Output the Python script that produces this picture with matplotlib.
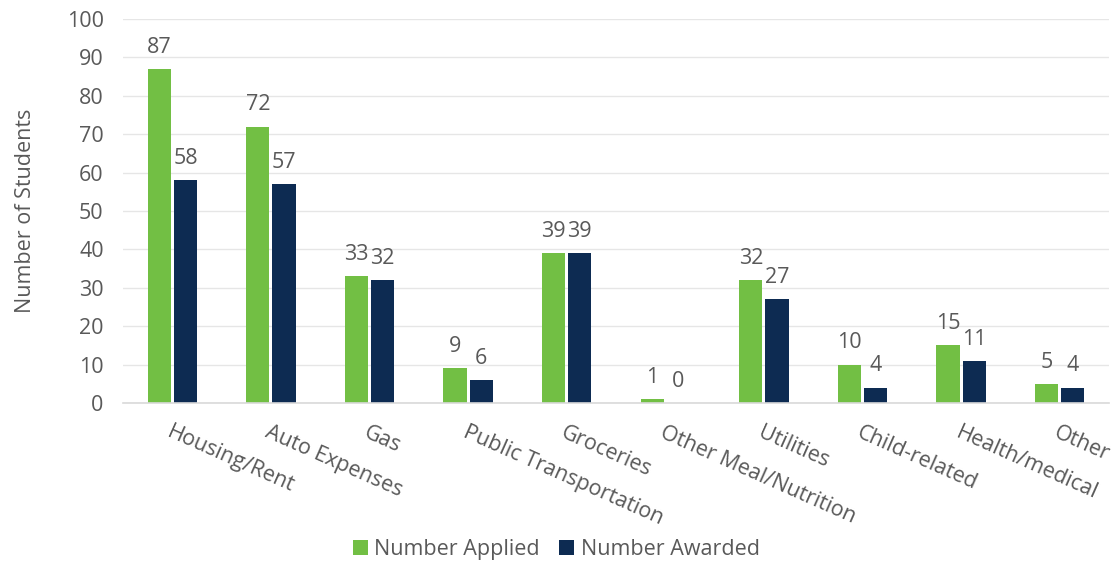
import matplotlib.pyplot as plt
import numpy as np

categories = ['Housing/Rent', 'Auto Expenses', 'Gas', 'Public Transportation', 'Groceries',
              'Other Meal/Nutrition', 'Utilities', 'Child-related', 'Health/medical', 'Other']
applied = [87, 72, 33, 9, 39, 1, 32, 10, 15, 5]
awarded = [58, 57, 32, 6, 39, 0, 27, 4, 11, 4]
series_names = ['Number Applied', 'Number Awarded']
yticks = list(range(0, 101, 10))

green = '#72BF44'
navy = '#0D2B52'
grey = '#595959'
fs = 15.5

plt.rcParams['font.family'] = ['Open Sans', 'DejaVu Sans']

fig = plt.figure(figsize=(11.19, 5.62), dpi=100)
ax = fig.add_axes([0.110, 0.283, 0.881, 0.683])

x = np.arange(len(categories))
w = 0.235
gap = 0.03
b1 = ax.bar(x - (w + gap) / 2, applied, w, color=green, label=series_names[0])
b2 = ax.bar(x + (w + gap) / 2, awarded, w, color=navy, label=series_names[1])

for bars, vals in [(b1, applied), (b2, awarded)]:
    for rect, v in zip(bars, vals):
        ax.annotate(str(v), (rect.get_x() + rect.get_width() / 2, v),
                    xytext=(0, 8), textcoords='offset points',
                    ha='center', va='bottom', fontsize=fs, color=grey)

ax.set_xlim(-0.5, len(categories) - 0.5)
ax.set_ylim(0, 100)
ax.set_yticks(yticks)
ax.tick_params(axis='y', length=0, pad=14, labelsize=fs, labelcolor=grey)
ax.set_xticks([])
for c, lab in zip(x, categories):
    ax.text(c, -5, lab, rotation=-24, rotation_mode='anchor', ha='left', va='top',
            fontsize=fs, color=grey)

ax.grid(axis='y', color='#E6E6E6', linewidth=1)
ax.set_axisbelow(True)
for s in ['top', 'right', 'left']:
    ax.spines[s].set_visible(False)
ax.spines['bottom'].set_color('#D9D9D9')
ax.spines['bottom'].set_linewidth(1.2)

ax.set_ylabel('Number of Students', fontsize=fs, color=grey, labelpad=22)

fig.legend(handles=[b1, b2], loc='center', bbox_to_anchor=(0.497, 0.023), ncol=2,
           frameon=False, fontsize=fs, labelcolor=grey, handlelength=0.7, handleheight=0.7,
           handletextpad=0.3, columnspacing=0.9)

fig.savefig('out.png', dpi=100)
